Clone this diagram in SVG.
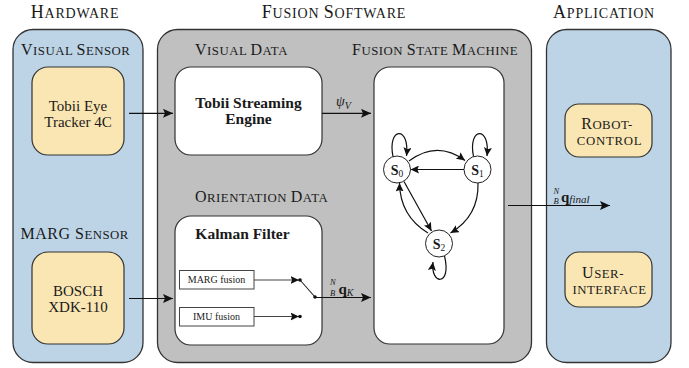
<svg xmlns="http://www.w3.org/2000/svg" width="689" height="368" viewBox="0 0 689 368">
<style>
.panel{stroke:#333;stroke-width:1.3}
.blue{fill:#bdd4e7}
.gray{fill:#c0c0c0}
.yel{fill:#fae6b2;stroke:#333;stroke-width:1.2}
.wht{fill:#fff;stroke:#333;stroke-width:1.2}
text{font-family:"Liberation Serif","DejaVu Serif",serif;fill:#1a1a1a}
.hd{font-size:18px;letter-spacing:0.8px}
.hs{font-size:14px}
.lb{font-size:16px;letter-spacing:0.5px}
.ls{font-size:12.8px}
.bd{font-weight:bold;font-size:15.5px}
.rg{font-size:15px}
.sm{font-size:10px}
.conn{stroke:#111;stroke-width:1.2;fill:none}
.gline{stroke:#444;stroke-width:1.2;fill:none}
.st{fill:#fff;stroke:#222;stroke-width:1}
.math{font-style:italic}
</style>
<defs>
<marker id="ah" markerUnits="userSpaceOnUse" markerWidth="11" markerHeight="9" refX="10" refY="4.5" orient="auto">
<path d="M0,0 L10,4.5 L0,9 L2,4.5 z" fill="#111"/>
</marker>
<marker id="ahs" markerUnits="userSpaceOnUse" markerWidth="9" markerHeight="8" refX="8.5" refY="4" orient="auto">
<path d="M0,0 L8.5,4 L0,8 L1.6,4 z" fill="#111"/>
</marker>
</defs>

<g id="headings">
<text class="hd" x="75" y="18" text-anchor="middle">H<tspan class="hs">ARDWARE</tspan></text>
<text class="hd" x="334" y="18" text-anchor="middle">F<tspan class="hs">USION </tspan>S<tspan class="hs">OFTWARE</tspan></text>
<text class="hd" x="604" y="18" text-anchor="middle">A<tspan class="hs">PPLICATION</tspan></text>
</g>

<g id="hardware">
<rect class="panel blue" x="13" y="29.5" width="130" height="333" rx="20"/>
<text class="lb" x="21" y="55">V<tspan class="ls">ISUAL </tspan>S<tspan class="ls">ENSOR</tspan></text>
<text class="lb" x="20.5" y="239">MARG S<tspan class="ls">ENSOR</tspan></text>
</g>
<g id="fusion">
<rect class="panel gray" x="157.5" y="29.5" width="374" height="333" rx="20"/>
<text class="lb" x="195" y="55">V<tspan class="ls">ISUAL </tspan>D<tspan class="ls">ATA</tspan></text>
<text class="lb" x="352" y="55">F<tspan class="ls">USION </tspan>S<tspan class="ls">TATE </tspan>M<tspan class="ls">ACHINE</tspan></text>
<text class="lb" x="195" y="202">O<tspan class="ls">RIENTATION </tspan>D<tspan class="ls">ATA</tspan></text>
</g>
<g id="application">
<rect class="panel blue" x="546.5" y="29.5" width="124.5" height="333" rx="20"/>
</g>

<g id="tobii">
<rect class="yel" x="32" y="67" width="92" height="88" rx="16"/>
<text class="rg" text-anchor="middle"><tspan x="78" y="111">Tobii Eye</tspan><tspan x="78" y="127">Tracker 4C</tspan></text>
</g>
<g id="bosch">
<rect class="yel" x="32" y="252" width="92" height="92" rx="16"/>
<text class="rg" text-anchor="middle"><tspan x="78" y="296">BOSCH</tspan><tspan x="78" y="311.5">XDK-110</tspan></text>
</g>
<g id="streaming">
<rect class="wht" x="175" y="67" width="147" height="88" rx="16"/>
<text class="bd" text-anchor="middle"><tspan x="248.5" y="108">Tobii Streaming</tspan><tspan x="248.5" y="123.5">Engine</tspan></text>
</g>
<g id="kalman">
<rect class="wht" x="175" y="216" width="147" height="129" rx="16"/>
<text class="bd" x="242.5" y="239" text-anchor="middle">Kalman Filter</text>
<g id="marg-fusion">
<rect fill="#fff" stroke="#444" stroke-width="1" x="179.5" y="270.5" width="74.5" height="18.5"/>
<text class="sm" x="216.5" y="283" text-anchor="middle">MARG fusion</text>
</g>
<g id="imu-fusion">
<rect fill="#fff" stroke="#444" stroke-width="1" x="179.5" y="307.5" width="74.5" height="18.5"/>
<text class="sm" x="216.5" y="320" text-anchor="middle">IMU fusion</text>
</g>
<g id="switch">
<line class="gline" x1="254" y1="280" x2="299" y2="280" marker-end="url(#ahs)"/>
<line class="gline" x1="254" y1="316.5" x2="299" y2="316.5" marker-end="url(#ahs)"/>
<line stroke="#222" stroke-width="1.1" x1="300" y1="280" x2="315" y2="297"/>
<circle cx="300" cy="280" r="1.8" fill="#111"/>
<circle cx="300" cy="316.5" r="1.8" fill="#111"/>
<circle cx="315" cy="297" r="1.8" fill="#111"/>
</g>
</g>
<g id="fsm">
<rect class="wht" x="374" y="67" width="130" height="277" rx="16"/>
<g id="s0">
<circle class="st" cx="397" cy="169.5" r="13.5"/>
<text x="397" y="174.5" text-anchor="middle" font-size="14" font-weight="bold">S<tspan font-size="9.5" font-weight="normal" dy="2">0</tspan></text>
</g>
<g id="s1">
<circle class="st" cx="477.5" cy="169.5" r="13.5"/>
<text x="477.5" y="174.5" text-anchor="middle" font-size="14" font-weight="bold">S<tspan font-size="9.5" font-weight="normal" dy="2">1</tspan></text>
</g>
<g id="s2">
<circle class="st" cx="439" cy="243.5" r="13.5"/>
<text x="439" y="248.5" text-anchor="middle" font-size="14" font-weight="bold">S<tspan font-size="9.5" font-weight="normal" dy="2">2</tspan></text>
</g>
</g>
<g id="robot">
<rect class="yel" x="565" y="104" width="87" height="53" rx="14"/>
<text text-anchor="middle"><tspan class="lb" x="607" y="128.5">R<tspan class="ls">OBOT-</tspan></tspan><tspan class="ls" x="609.5" y="144.5" letter-spacing="0.7">CONTROL</tspan></text>
</g>
<g id="user">
<rect class="yel" x="565" y="252" width="87" height="55" rx="14"/>
<text text-anchor="middle"><tspan class="lb" x="603" y="277.5">U<tspan class="ls">SER-</tspan></tspan><tspan class="ls" x="609.5" y="293.5" letter-spacing="0.5">INTERFACE</tspan></text>
</g>

<g id="connectors">
<line class="conn" x1="129" y1="113.3" x2="173" y2="113.3" marker-end="url(#ah)"/>
<line class="conn" x1="129" y1="298.5" x2="173" y2="298.5" marker-end="url(#ah)"/>
<line class="conn" x1="322" y1="113.3" x2="371" y2="113.3" marker-end="url(#ah)"/>
<line class="conn" x1="315" y1="297.5" x2="371" y2="297.5" marker-end="url(#ah)"/>
<line class="conn" x1="508" y1="205.5" x2="610" y2="205.5" marker-end="url(#ah)"/>
<path class="conn" stroke-width="1" d="M393,156.5 C387,127 410,125 406.5,156" marker-end="url(#ahs)"/>
<path class="conn" stroke-width="1" d="M473.5,156.5 C467.5,127 490.5,125 487,156" marker-end="url(#ahs)"/>
<path class="conn" stroke-width="1" d="M444.5,256 C452,287 430,285 433,262" marker-end="url(#ahs)"/>
<path class="conn" stroke-width="1" d="M409,161 Q437,140 465,160.5" marker-end="url(#ahs)"/>
<line class="conn" stroke-width="1" x1="464" y1="169.5" x2="410.5" y2="169.5" marker-end="url(#ahs)"/>
<line class="conn" stroke-width="1" x1="404" y1="181.5" x2="431.5" y2="231" marker-end="url(#ahs)"/>
<path class="conn" stroke-width="1" d="M428,233 Q400,216 399.5,183" marker-end="url(#ahs)"/>
<path class="conn" stroke-width="1" d="M478,183 Q479,216 450.5,233" marker-end="url(#ahs)"/>
</g>

<g id="labels">
<text class="math" x="336" y="106" font-size="14">ψ<tspan font-size="10" dy="2.5">V</tspan></text>
<text font-size="8.5"><tspan class="math" x="330" y="285">N</tspan><tspan class="math" x="330" y="295.5">B</tspan><tspan x="338.5" y="294" font-size="15" font-weight="bold">q</tspan><tspan class="math" font-size="10" dy="2">K</tspan></text>
<text font-size="8.5"><tspan class="math" x="553.5" y="193.5">N</tspan><tspan class="math" x="553.5" y="204">B</tspan><tspan x="561" y="201.5" font-size="15" font-weight="bold">q</tspan><tspan class="math" font-size="11" dy="1.5">final</tspan></text>
</g>
</svg>
